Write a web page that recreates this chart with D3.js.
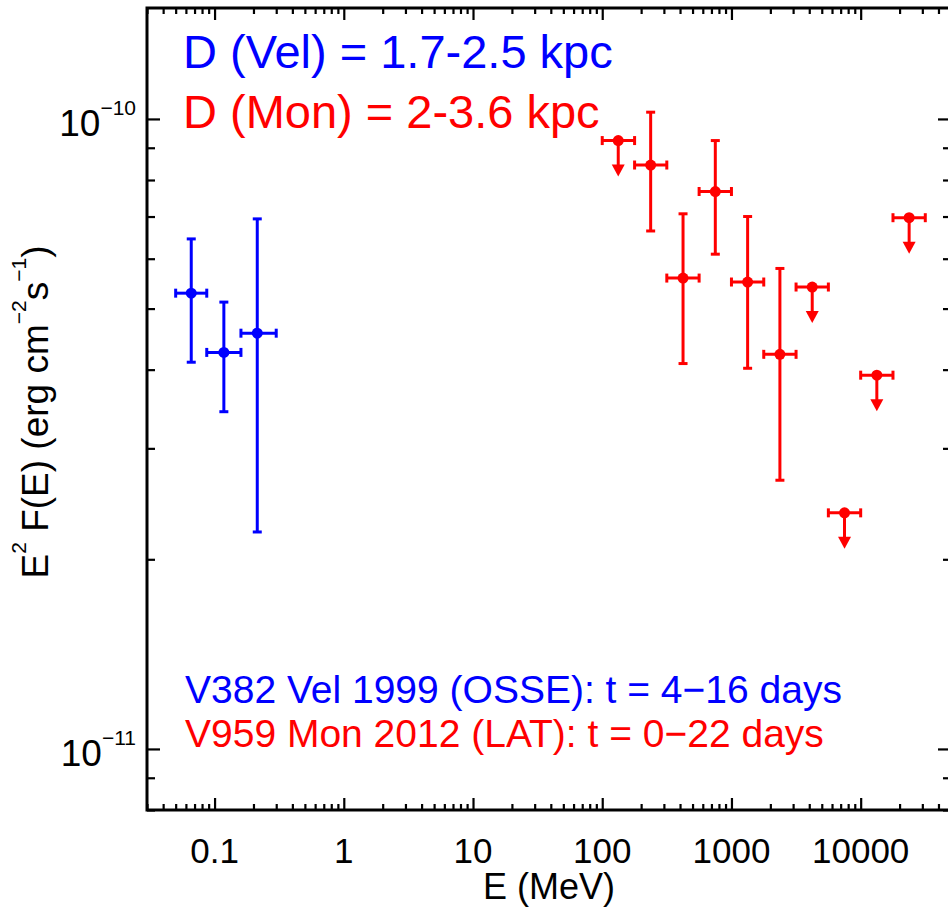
<!DOCTYPE html>
<html>
<head>
<meta charset="utf-8">
<script src="https://cdn.jsdelivr.net/npm/d3@7"></script>
<style>
	body { margin: 0; background: #fff; }
	svg { display: block; font-family: "Liberation Sans", Arial, Helvetica, sans-serif; }
</style>
</head>
<body>
<div id="container"></div>
<script>
// V382 Vel 1999 (OSSE)
const velE = [0.066, 0.118, 0.214];
const velELo = [0.05, 0.087, 0.16];
const velEHi = [0.087, 0.16, 0.3];
const velF = [5.29e-11, 4.26e-11, 4.57e-11];
const velFLo = [4.11e-11, 3.43e-11, 2.21e-11];
const velFHi = [6.45e-11, 5.12e-11, 6.94e-11];

// V959 Mon 2012 (LAT) - null errors = upper limit
const monE = [133, 237, 422, 750, 1334, 2371, 4217, 7499, 13335, 23714];
const monELo = [100, 178, 316, 562, 1000, 1778, 3162, 5623, 10000, 17783];
const monEHi = [178, 316, 562, 1000, 1778, 3162, 5623, 10000, 17783, 31623];
const monF = [9.24e-11, 8.45e-11, 5.59e-11, 7.67e-11, 5.51e-11, 4.23e-11, 5.41e-11, 2.37e-11, 3.92e-11, 6.97e-11];
const monFLo = [null, 6.64e-11, 4.09e-11, 6.10e-11, 4.02e-11, 2.67e-11, null, null, null, null];
const monFHi = [null, 1.025e-10, 7.07e-11, 9.24e-11, 7.00e-11, 5.79e-11, null, null, null, null];

const xTicks = [0.1, 1, 10, 100, 1000, 10000];
const xTickLabels = ["0.1", "1", "10", "100", "1000", "10000"];
const yTicks = [1e-11, 1e-10];
const yTickExp = ["\u221211", "\u221210"];

const blue = "#0000ff";
const red = "#ff0000";

window.addEventListener("load", () => drawChart());

function drawChart() {
	const width = 948;
	const height = 915;
	const margin = { top: 8, left: 147 };
	const plotW = 804;
	const plotH = 802;

	const svg = d3
		.select("#container")
		.append("svg")
		.attr("width", width)
		.attr("height", height);

	const x = d3.scaleLog().domain([0.03, 5e4]).range([margin.left, margin.left + plotW]);
	const y = d3.scaleLog().domain([8e-12, 1.5e-10]).range([margin.top + plotH, margin.top]);

	const x0 = margin.left, x1 = margin.left + plotW;
	const y0 = margin.top + plotH, y1 = margin.top;

	// minor tick positions (2..9 in each decade)
	function minors(domain) {
		const out = [];
		for (let p = Math.floor(Math.log10(domain[0])); p <= Math.ceil(Math.log10(domain[1])); p++) {
			for (let m = 2; m <= 9; m++) {
				const v = m * Math.pow(10, p);
				if (v >= domain[0] && v <= domain[1]) out.push(v);
			}
		}
		return out;
	}
	const xMinor = minors(x.domain());
	const yMinor = minors(y.domain());

	function axis(gen, scale, values, size, tx, ty) {
		const g = svg
			.append("g")
			.attr("transform", `translate(${tx},${ty})`)
			.call(gen(scale).tickValues(values).tickSize(size).tickSizeOuter(0).tickFormat(""));
		g.select(".domain").remove();
		g.selectAll(".tick line").attr("stroke", "#000").attr("stroke-width", 2.2);
		return g;
	}

	// x ticks bottom / top (drawn inward)
	axis(d3.axisTop, x, xTicks, 12, 0, y0);
	axis(d3.axisTop, x, xMinor, 6, 0, y0);
	axis(d3.axisBottom, x, xTicks, 12, 0, y1);
	axis(d3.axisBottom, x, xMinor, 6, 0, y1);
	// y ticks left / right
	axis(d3.axisRight, y, yTicks, 13, x0, 0);
	axis(d3.axisRight, y, yMinor, 8, x0, 0);
	axis(d3.axisLeft, y, yTicks, 13, x1, 0);
	axis(d3.axisLeft, y, yMinor, 8, x1, 0);

	// frame
	svg
		.append("rect")
		.attr("x", x0)
		.attr("y", y1)
		.attr("width", plotW)
		.attr("height", plotH)
		.attr("fill", "none")
		.attr("stroke", "#000")
		.attr("stroke-width", 3);

	// x tick labels
	svg
		.append("g")
		.selectAll("text")
		.data(xTicks)
		.enter()
		.append("text")
		.attr("x", (d) => x(d))
		.attr("y", 863)
		.attr("text-anchor", "middle")
		.attr("font-size", 35)
		.text((d, i) => xTickLabels[i]);

	// y tick labels 10^n
	const yl = svg
		.append("g")
		.selectAll("text")
		.data(yTicks)
		.enter()
		.append("text")
		.attr("x", x0 - 11)
		.attr("y", (d) => y(d) + 17)
		.attr("text-anchor", "end")
		.attr("font-size", 37);
	yl.append("tspan").text("10");
	yl.append("tspan").attr("font-size", 21).attr("dy", -21).text((d, i) => yTickExp[i]);

	// axis titles
	svg
		.append("text")
		.attr("x", (x0 + x1) / 2)
		.attr("y", 899)
		.attr("text-anchor", "middle")
		.attr("font-size", 36)
		.text("E (MeV)");

	const yt = svg
		.append("text")
		.attr("transform", `translate(48,${(y0 + y1) / 2 + 3}) rotate(-90)`)
		.attr("text-anchor", "middle")
		.attr("font-size", 37);
	yt.append("tspan").text("E");
	yt.append("tspan").attr("font-size", 21).attr("dy", -22).text("2");
	yt.append("tspan").attr("dy", 22).text(" F(E) (erg cm");
	yt.append("tspan").attr("font-size", 21).attr("dy", -22).text("\u22122");
	yt.append("tspan").attr("dy", 22).text("s");
	yt.append("tspan").attr("font-size", 21).attr("dy", -22).text("\u22121");
	yt.append("tspan").attr("dy", 22).text(")");

	// legend texts
	const legend = [
		{ t: "D (Vel) = 1.7-2.5 kpc", c: blue, x: 183, y: 68, s: 47 },
		{ t: "D (Mon) = 2-3.6 kpc", c: red, x: 183, y: 128, s: 47 },
		{ t: "V382 Vel 1999 (OSSE): t = 4\u221216 days", c: blue, x: 185, y: 703, s: 39 },
		{ t: "V959 Mon 2012 (LAT): t = 0\u221222 days", c: red, x: 185, y: 747, s: 39 },
	];
	svg
		.append("g")
		.selectAll("text")
		.data(legend)
		.enter()
		.append("text")
		.attr("x", (d) => d.x)
		.attr("y", (d) => d.y)
		.attr("font-size", (d) => d.s)
		.attr("fill", (d) => d.c)
		.text((d) => d.t);

	// data points
	const vel = velE.map((e, i) => ({ e, lo: velELo[i], hi: velEHi[i], f: velF[i], fLo: velFLo[i], fHi: velFHi[i] }));
	const mon = monE.map((e, i) => ({ e, lo: monELo[i], hi: monEHi[i], f: monF[i], fLo: monFLo[i], fHi: monFHi[i] }));

	drawSeries(vel, blue);
	drawSeries(mon, red);

	function drawSeries(dataset, color) {
		const cap = 4.5;
		const arrowLen = 36;
		const headH = 12;
		const headW = 6.5;
		const g = svg
			.append("g")
			.attr("stroke", color)
			.attr("fill", color)
			.attr("stroke-width", 3);

		dataset.forEach((d) => {
			const cx = x(d.e);
			const cy = y(d.f);
			// horizontal bar
			g.append("line").attr("x1", x(d.lo)).attr("x2", x(d.hi)).attr("y1", cy).attr("y2", cy);
			g.append("line").attr("x1", x(d.lo)).attr("x2", x(d.lo)).attr("y1", cy - cap).attr("y2", cy + cap);
			g.append("line").attr("x1", x(d.hi)).attr("x2", x(d.hi)).attr("y1", cy - cap).attr("y2", cy + cap);
			if (d.fLo != null) {
				const ya = y(d.fHi);
				const yb = y(d.fLo);
				g.append("line").attr("x1", cx).attr("x2", cx).attr("y1", ya).attr("y2", yb);
				g.append("line").attr("x1", cx - cap).attr("x2", cx + cap).attr("y1", ya).attr("y2", ya);
				g.append("line").attr("x1", cx - cap).attr("x2", cx + cap).attr("y1", yb).attr("y2", yb);
			} else {
				// upper limit arrow
				const tip = cy + arrowLen;
				g.append("line").attr("x1", cx).attr("x2", cx).attr("y1", cy).attr("y2", tip - headH + 1);
				g.append("path")
					.attr("stroke", "none")
					.attr("d", `M${cx - headW},${tip - headH}L${cx + headW},${tip - headH}L${cx},${tip}Z`);
			}
			g.append("circle").attr("cx", cx).attr("cy", cy).attr("r", 5.5).attr("stroke", "none");
		});
	}
}
</script>
</body>
</html>
